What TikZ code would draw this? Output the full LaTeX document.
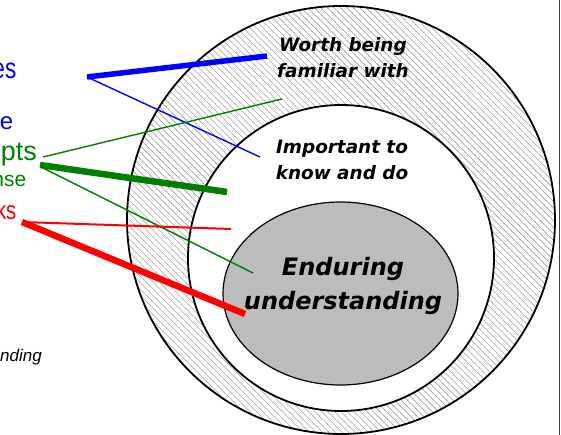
\documentclass[tikz,border=0pt]{standalone}
\usepackage{fontspec}
\setmainfont{Liberation Sans}
\newfontfamily\ringfont{DejaVu Sans}
\usetikzlibrary{patterns.meta,shapes.geometric}
\definecolor{ringgray}{RGB}{188,188,188}
\definecolor{hatchgray}{RGB}{160,160,160}
\definecolor{linkblue}{RGB}{0,0,255}
\definecolor{linkgreen}{RGB}{0,128,0}
\definecolor{linkred}{RGB}{255,0,0}
\tikzset{
  ringlabel/.style={font=\ringfont\bfseries\itshape\fontsize{18.4}{26}\selectfont, align=center, inner sep=0pt},
  corelabel/.style={font=\ringfont\bfseries\itshape\fontsize{24}{34}\selectfont, align=center, inner sep=0pt},
  sidelabel/.style={anchor=base east, inner sep=0pt},
  narrowlabel/.style={sidelabel, xscale=0.78},
  thinlink/.style={line width=1.4pt},
  thicklink/.style={line width=6.5pt},
  ringline/.style={draw=black, line width=1.8pt},
}
\begin{document}
\begin{tikzpicture}[x=1pt,y=-1pt]
\useasboundingbox (0,0) rectangle (561,435);
% hatched outer ring
\fill[pattern={Lines[angle=-45,distance=4.6pt,line width=0.6pt]}, pattern color=hatchgray, even odd rule]
  (341,220) circle[radius=214] (341,258) circle[radius=153];
\draw[ringline] (341,220) circle[radius=214];
\draw[ringline] (341,258) circle[radius=153];
% grey core
\node[ellipse, draw=black, line width=1.2pt, fill=ringgray, minimum width=235pt, minimum height=183pt, inner sep=0pt] (core) at (340.5,293.5) {};
% right frame edge
\draw[line width=1.5pt, black!75] (559.5,0) -- (559.5,435);

% labels
\node[ringlabel] (worth) at (343,58) {Worth being\\familiar with};
\node[ringlabel] (important) at (342,160) {Important to\\know and do};
\node[corelabel] (enduring) at (343,286) {Enduring\\understanding};

\node[narrowlabel, text=linkblue, font=\fontsize{29}{30}\selectfont] (es) at (16.5,79) {es};
\node[sidelabel, text=linkblue, font=\fontsize{24}{26}\selectfont] (e) at (13.5,130) {e};
\node[sidelabel, text=linkgreen, font=\fontsize{27}{30}\selectfont] (pts) at (37,161) {pts};
\node[sidelabel, text=linkgreen, font=\fontsize{21}{22}\selectfont] (nse) at (26.5,187) {nse};
\node[narrowlabel, text=linkred, font=\fontsize{26}{30}\selectfont] (ks) at (16.5,220) {ks};
\node[sidelabel, font=\itshape\fontsize{17}{18}\selectfont] (nding) at (42,361) {nding};

% connector end points
\coordinate (bhub) at (87,77);
\coordinate (ghubA) at (43,157);
\coordinate (ghubB) at (40,165);
\coordinate (ghubC) at (43,168);
\coordinate (rhub) at (22,222);
\coordinate (bthickend) at (267,56);
\coordinate (bthinend) at (260,157);
\coordinate (gthinAend) at (282,99);
\coordinate (gthickend) at (227,192);
\coordinate (gthinCend) at (253,273);
\coordinate (rthinend) at (231,229);
\coordinate (rthickend) at (245,314);

\draw[thicklink, linkblue, line width=5.5pt] (bhub) -- (bthickend);
\draw[thinlink, linkblue] (bhub) -- (bthinend);
\draw[thinlink, linkgreen] (ghubA) -- (gthinAend);
\draw[thicklink, linkgreen] (ghubB) -- (gthickend);
\draw[thinlink, linkgreen] (ghubC) -- (gthinCend);
\draw[thinlink, linkred, line width=2pt] (rhub) -- (rthinend);
\draw[thicklink, linkred] (rhub) -- (rthickend);
\end{tikzpicture}
\end{document}
